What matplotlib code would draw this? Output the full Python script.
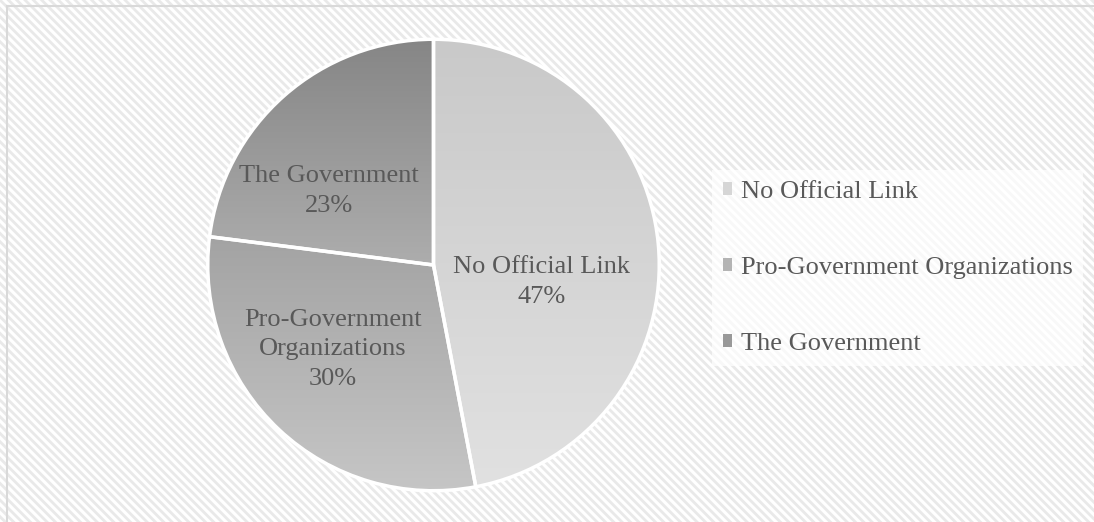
import numpy as np
import matplotlib.pyplot as plt
from matplotlib.patches import Rectangle, Patch
from matplotlib.lines import Line2D
from matplotlib.colors import to_rgb

labels = ["No Official Link", "Pro-Government Organizations", "The Government"]
slice_labels = ["No Official Link", "Pro-Government\nOrganizations", "The Government"]
shares = [47, 30, 23]

# gradient ends for each slice (top, bottom)
top_colors = ["#c9c9c9", "#a3a3a3", "#868686"]
bottom_colors = ["#e1e1e1", "#c6c6c6", "#adadad"]
# label position inside each slice, in pie radius units
label_pos = [(0.48, -0.075), (-0.445, -0.373), (-0.463, 0.329)]

plt.rcParams["font.family"] = ["Liberation Serif", "DejaVu Serif"]
plt.rcParams["hatch.color"] = "#e9e9e9"
plt.rcParams["hatch.linewidth"] = 2.0
text_color = "#595959"

W, H = 1094, 522
fig = plt.figure(figsize=(W / 100, H / 100), dpi=100)

# striped background
fig.patches.append(Rectangle((0, 0), 1, 1, transform=fig.transFigure,
                             facecolor="white", edgecolor="#e9e9e9", linewidth=0,
                             hatch="\\\\\\\\", zorder=-2))
# chart border (top and left edges visible)
fig.add_artist(Line2D([7 / W, 7 / W], [0, 1 - 6 / H], transform=fig.transFigure,
                      color="#d9d9d9", linewidth=1.5))
fig.add_artist(Line2D([7 / W, 1], [1 - 6 / H, 1 - 6 / H], transform=fig.transFigure,
                      color="#d9d9d9", linewidth=1.5))

cx, cy, r = 433.5, 265, 228
ax = fig.add_axes([(cx - r) / W, (H - cy - r) / H, 2 * r / W, 2 * r / H])
ax.axis("off")

wedges, _ = ax.pie(shares, startangle=90, counterclock=False, radius=1,
                   wedgeprops=dict(facecolor="none", edgecolor="white", linewidth=2.5))

for w, c_top, c_bot in zip(wedges, top_colors, bottom_colors):
    verts = w.get_path().vertices
    y0, y1 = verts[:, 1].min(), verts[:, 1].max()
    x0, x1 = verts[:, 0].min(), verts[:, 0].max()
    t = np.linspace(0, 1, 256)[:, None, None]
    grad = (1 - t) * np.array(to_rgb(c_bot)) + t * np.array(to_rgb(c_top))
    grad = np.repeat(grad, 2, axis=1)
    im = ax.imshow(grad, extent=[x0, x1, y0, y1], origin="lower",
                   aspect="auto", zorder=1, interpolation="bilinear")
    im.set_clip_path(w)
    w.set_zorder(2)

ax.set_xlim(-1.01, 1.01)
ax.set_ylim(-1.01, 1.01)
ax.set_aspect("equal")

for (lx, ly), name, v in zip(label_pos, slice_labels, shares):
    ax.text(lx, ly, f"{name}\n{v}%", ha="center", va="center", fontsize=19,
            color=text_color, linespacing=1.45, zorder=3)

handles = [Patch(facecolor=c, edgecolor="none")
           for c in ["#d6d6d6", "#b4b4b4", "#999999"]]
leg = fig.legend(handles, labels, loc="center left",
                 bbox_to_anchor=(712 / W, 1 - 268 / H), frameon=True,
                 fontsize=19, labelcolor=text_color, handlelength=0.35,
                 handleheight=0.35, handletextpad=0.35, labelspacing=2.05,
                 borderaxespad=0, borderpad=0.4, fancybox=False)
leg.get_frame().set_facecolor("white")
leg.get_frame().set_alpha(0.7)
leg.get_frame().set_linewidth(0)

fig.savefig("out.png", dpi=100)
